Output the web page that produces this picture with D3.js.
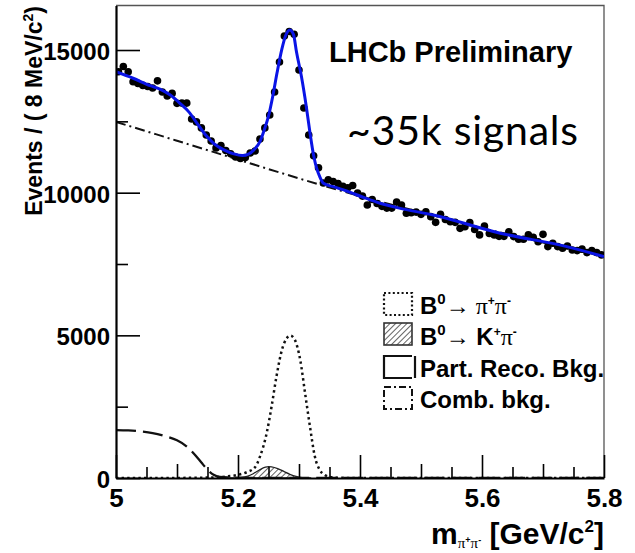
<!DOCTYPE html>
<html>
<head>
<meta charset="utf-8">
<script src="https://cdn.jsdelivr.net/npm/d3@7"></script>
<style>
  body { margin: 0; background: #fff; }
  svg { display: block; }
  .axis text { font-family: "Liberation Sans", Arial, Helvetica, sans-serif; font-weight: bold; fill: #000; }
</style>
</head>
<body>
<svg id="chart" width="635" height="553"></svg>
<script>
// ---- data: B0 -> pi+ pi- invariant mass, 8 MeV bins ----
const binCenters = [
  5.004,5.012,5.020,5.028,5.036,5.044,5.052,5.060,5.068,5.076,
  5.084,5.092,5.100,5.108,5.116,5.124,5.132,5.140,5.148,5.156,
  5.164,5.172,5.180,5.188,5.196,5.204,5.212,5.220,5.228,5.236,
  5.244,5.252,5.260,5.268,5.276,5.284,5.292,5.300,5.308,5.316,
  5.324,5.332,5.340,5.348,5.356,5.364,5.372,5.380,5.388,5.396,
  5.404,5.412,5.420,5.428,5.436,5.444,5.452,5.460,5.468,5.476,
  5.484,5.492,5.500,5.508,5.516,5.524,5.532,5.540,5.548,5.556,
  5.564,5.572,5.580,5.588,5.596,5.604,5.612,5.620,5.628,5.636,
  5.644,5.652,5.660,5.668,5.676,5.684,5.692,5.700,5.708,5.716,
  5.724,5.732,5.740,5.748,5.756,5.764,5.772,5.780,5.788,5.796
];
const events = [
  14240,14420,14240,13890,13830,13760,13720,13670,13920,13530,
  13390,13480,13130,13140,13140,12580,12480,12270,12020,11810,
  11570,11650,11480,11360,11250,11200,11230,11390,11460,11880,
  12270,12720,13530,14580,15490,15650,15550,14300,12970,12020,
  11290,10870,10340,10450,10390,10320,10220,10170,10250,9990,
  9880,9570,9760,9620,9520,9460,9460,9670,9570,9280,
  9300,9320,9240,9330,9160,8960,9240,9060,8980,8960,
  8750,8810,8950,8710,8520,8830,8570,8520,8470,8470,
  8630,8460,8370,8370,8520,8440,8280,8540,8110,8230,
  8110,8050,8130,7990,7970,8020,7900,7970,7900,7820
];

// total fit
const totalMass = [5.000,5.028,5.056,5.072,5.089,5.105,5.119,5.133,5.147,5.160,5.177,5.193,5.207,5.218,5.226,5.236,5.243,5.250,5.257,5.264,5.272,5.278,5.285,5.291,5.296,5.304,5.312,5.318,5.324,5.329,5.334,5.340,5.356,5.378,5.405,5.433,5.466,5.520,5.630,5.739,5.800];
const totalFit  = [14240,14010,13750,13630,13420,13130,12840,12430,12020,11730,11500,11360,11300,11360,11500,11790,12200,12680,13380,14200,15040,15500,15700,15540,14920,14070,13010,12100,11300,10850,10560,10330,10210,10060,9840,9630,9450,9220,8580,8110,7760];

// combinatorial background
const combMass = [5.0,5.1,5.2,5.3,5.4,5.5,5.6,5.7,5.8];
const combFit  = [12480,11820,11160,10500,9880,9310,8760,8250,7760];

// B0 -> pi+ pi- signal
const sigMass = [5.00,5.10,5.15,5.18,5.20,5.215,5.228,5.236,5.247,5.255,5.263,5.272,5.280,5.286,5.293,5.302,5.310,5.318,5.326,5.334,5.342,5.350,5.370,5.400,5.800];
const sigFit  = [0,3,15,50,110,210,380,750,1570,2500,3550,4490,4900,4990,4850,4140,2970,1800,750,280,110,40,8,0,0];

// B0 -> K+ pi- misidentified
const kpiMass = [5.180,5.195,5.205,5.215,5.225,5.235,5.245,5.250,5.255,5.265,5.275,5.285,5.295,5.305,5.320];
const kpiFit  = [0,5,20,60,150,280,380,400,390,330,230,130,55,15,0];

// partially reconstructed background
const prMass = [5.00,5.02,5.04,5.06,5.08,5.10,5.115,5.13,5.14,5.15,5.16,5.17,5.19,5.22,5.26,5.80];
const prFit  = [1680,1668,1635,1575,1470,1320,1120,800,540,290,110,40,15,5,0,0];

// axis ticks
const yMajorTicks = [0,5000,10000,15000];
const yMinorTicks = [2500,7500,12500];
const xMajorTicks = [5.0,5.2,5.4,5.6,5.8];
const xTickLabels = ["5","5.2","5.4","5.6","5.8"];
const xMidTicks   = [5.1,5.3,5.5,5.7];
const xMinorTicks = [5.05,5.15,5.25,5.35,5.45,5.55,5.65,5.75];

// ---- drawing ----
const svg = d3.select("#chart");
const plotLeft = 116, plotRight = 604, plotTop = 5.5, plotBottom = 478;
const x = d3.scaleLinear().domain([5.0, 5.8]).range([plotLeft, plotRight]);
const y = d3.scaleLinear().domain([0, 16560]).range([plotBottom, plotTop]);

const defs = svg.append("defs");
defs.append("clipPath").attr("id", "plotArea")
  .append("rect").attr("x", plotLeft).attr("y", plotTop)
  .attr("width", plotRight - plotLeft).attr("height", plotBottom - plotTop);
const hatch = defs.append("pattern").attr("id", "hatch")
  .attr("patternUnits", "userSpaceOnUse").attr("width", 4).attr("height", 4)
  .attr("patternTransform", "rotate(45)");
hatch.append("line").attr("x1", 0).attr("y1", 0).attr("x2", 0).attr("y2", 4)
  .attr("stroke", "#222").attr("stroke-width", 1.4);

// frame (top / right)
svg.append("path")
  .attr("d", `M${plotLeft},${plotTop}H${plotRight}V${plotBottom}`)
  .attr("fill", "none").attr("stroke", "#555").attr("stroke-width", 1.3);

const plot = svg.append("g").attr("clip-path", "url(#plotArea)");
const lineOf = (xs, ys, curve) => d3.line()
  .x((d, i) => x(xs[i])).y((d, i) => y(ys[i])).curve(curve || d3.curveMonotoneX)(ys);

// combinatorial background: dash-dot
plot.append("path").attr("d", lineOf(combMass, combFit))
  .attr("fill", "none").attr("stroke", "#111").attr("stroke-width", 2)
  .attr("stroke-dasharray", "10,4,2,4");

// partially reconstructed background: long dashes
plot.append("path").attr("d", lineOf(prMass, prFit))
  .attr("fill", "none").attr("stroke", "#111").attr("stroke-width", 2.3)
  .attr("stroke-dasharray", "20,7");

// K pi: hatched area
const kpiArea = d3.area()
  .x((d, i) => x(kpiMass[i])).y0(y(0)).y1((d, i) => y(kpiFit[i]))
  .curve(d3.curveMonotoneX);
plot.append("path").attr("d", kpiArea(kpiFit))
  .attr("fill", "url(#hatch)").attr("stroke", "#222").attr("stroke-width", 1.3);

// pi pi signal: dotted
plot.append("path").attr("d", lineOf(sigMass, sigFit))
  .attr("fill", "none").attr("stroke", "#111").attr("stroke-width", 2.5)
  .attr("stroke-dasharray", "2.4,3.2");

// data points
plot.append("g").selectAll("circle").data(events).join("circle")
  .attr("cx", (d, i) => x(binCenters[i])).attr("cy", d => y(d))
  .attr("r", 3.8).attr("fill", "#000");

// total fit
plot.append("path").attr("d", lineOf(totalMass, totalFit))
  .attr("fill", "none").attr("stroke", "#0a14e6").attr("stroke-width", 3);

// ---- axes ----
const yAxis = svg.append("g").attr("class", "axis").attr("transform", `translate(${plotLeft},0)`)
  .call(d3.axisLeft(y).tickValues(yMajorTicks).tickSize(-24).tickSizeOuter(0).tickPadding(6)
    .tickFormat(d3.format("d")));
svg.append("g").attr("transform", `translate(${plotLeft},0)`)
  .call(d3.axisLeft(y).tickValues(yMinorTicks).tickSize(-12).tickSizeOuter(0).tickFormat(""))
  .call(g => g.select(".domain").remove());
yAxis.selectAll("text").attr("font-size", 24).attr("dy", "0.4em");

const xAxis = svg.append("g").attr("class", "axis").attr("transform", `translate(0,${plotBottom})`)
  .call(d3.axisBottom(x).tickValues(xMajorTicks).tickSize(-23).tickSizeOuter(0).tickPadding(11)
    .tickFormat((d, i) => xTickLabels[i]));
xAxis.selectAll("text").attr("font-size", 26);
svg.append("g").attr("transform", `translate(0,${plotBottom})`)
  .call(d3.axisBottom(x).tickValues(xMidTicks).tickSize(-14).tickSizeOuter(0).tickFormat(""))
  .call(g => g.select(".domain").remove());
svg.append("g").attr("transform", `translate(0,${plotBottom})`)
  .call(d3.axisBottom(x).tickValues(xMinorTicks).tickSize(-11).tickSizeOuter(0).tickFormat(""))
  .call(g => g.select(".domain").remove());

svg.selectAll(".tick line").attr("stroke", "#000").attr("stroke-width", 1.6);
svg.selectAll(".axis .domain").attr("stroke", "#000").attr("stroke-width", 2.2);

// ---- titles ----
const sans = '"Liberation Sans", Arial, Helvetica, sans-serif';
const serif = '"Liberation Serif", "Times New Roman", serif';

const yTitle = svg.append("text")
  .attr("transform", "translate(42,6) rotate(-90)")
  .attr("text-anchor", "end").attr("font-family", sans).attr("font-weight", "bold")
  .attr("font-size", 23);
yTitle.append("tspan").text("Events / ( 8 MeV/c");
yTitle.append("tspan").attr("font-size", 14).attr("dy", -9).text("2");
yTitle.append("tspan").attr("dy", 9).text(")");

const xTitle = svg.append("text")
  .attr("x", 604).attr("y", 544).attr("text-anchor", "end")
  .attr("font-family", sans).attr("font-weight", "bold").attr("font-size", 30);
xTitle.append("tspan").text("m");
xTitle.append("tspan").attr("font-family", serif).attr("font-weight", "normal").attr("font-size", 15).attr("dy", 4).text("π");
xTitle.append("tspan").attr("font-size", 9).attr("dy", -5).text("+");
xTitle.append("tspan").attr("font-family", serif).attr("font-weight", "normal").attr("font-size", 15).attr("dy", 5).text("π");
xTitle.append("tspan").attr("font-size", 9).attr("dy", -5).text("-");
xTitle.append("tspan").attr("dy", 1).text(" [GeV/c");
xTitle.append("tspan").attr("font-size", 17).attr("dy", -12).text("2");
xTitle.append("tspan").attr("dy", 12).text("]");

svg.append("text").attr("x", 329).attr("y", 62)
  .attr("font-family", sans).attr("font-weight", "bold").attr("font-size", 29)
  .text("LHCb Preliminary");

svg.append("text").attr("x", 347).attr("y", 145)
  .attr("font-family", 'Lato, "Open Sans", sans-serif').attr("font-size", 41)
  .attr("letter-spacing", 0.8)
  .text("~35k signals");

// ---- legend ----
const legendRows = [
  { key: "pipi", top: 293 },
  { key: "kpi", top: 323 },
  { key: "pr", top: 356 },
  { key: "comb", top: 387 }
];
const leg = svg.append("g");
const bx = 384, bw = 28, bh = 22;
legendRows.forEach(r => {
  const g = leg.append("g");
  if (r.key === "pipi") {
    g.append("rect").attr("x", bx).attr("y", r.top).attr("width", bw).attr("height", bh)
      .attr("fill", "none").attr("stroke", "#111").attr("stroke-width", 2.2).attr("stroke-dasharray", "2,2.4");
  } else if (r.key === "kpi") {
    g.append("rect").attr("x", bx).attr("y", r.top).attr("width", bw).attr("height", bh)
      .attr("fill", "url(#hatch)").attr("stroke", "#333").attr("stroke-width", 1.6);
  } else if (r.key === "pr") {
    g.append("path").attr("d", `M${bx + bw},${r.top}H${bx}V${r.top + bh}H${bx + bw}`)
      .attr("fill", "none").attr("stroke", "#111").attr("stroke-width", 2.2);
    g.append("path").attr("d", `M${bx + bw + 3},${r.top}V${r.top + bh}`)
      .attr("stroke", "#111").attr("stroke-width", 2.2);
  } else {
    g.append("rect").attr("x", bx).attr("y", r.top).attr("width", bw).attr("height", bh)
      .attr("fill", "none").attr("stroke", "#111").attr("stroke-width", 2).attr("stroke-dasharray", "7,3,2,3");
  }
});

const legText = (ty) => leg.append("text").attr("x", 420).attr("y", ty)
  .attr("font-family", sans).attr("font-weight", "bold").attr("font-size", 24);

let t = legText(314);
t.append("tspan").text("B");
t.append("tspan").attr("font-size", 15).attr("dy", -10).text("0");
t.append("tspan").attr("font-family", serif).attr("font-weight", "normal").attr("font-size", 24).attr("dy", 10).text("→ ");
t.append("tspan").attr("font-family", serif).attr("font-weight", "normal").attr("font-size", 24).text("π");
t.append("tspan").attr("font-size", 12).attr("dy", -9).text("+");
t.append("tspan").attr("font-family", serif).attr("font-weight", "normal").attr("font-size", 24).attr("dy", 9).text("π");
t.append("tspan").attr("font-size", 12).attr("dy", -9).text("-");

t = legText(345);
t.append("tspan").text("B");
t.append("tspan").attr("font-size", 15).attr("dy", -10).text("0");
t.append("tspan").attr("font-family", serif).attr("font-weight", "normal").attr("font-size", 24).attr("dy", 10).text("→");
t.append("tspan").text(" K");
t.append("tspan").attr("font-size", 12).attr("dy", -9).text("+");
t.append("tspan").attr("font-family", serif).attr("font-weight", "normal").attr("font-size", 24).attr("dy", 9).text("π");
t.append("tspan").attr("font-size", 12).attr("dy", -9).text("-");

legText(377).text("Part. Reco. Bkg.");
legText(408).text("Comb. bkg.");
</script>
</body>
</html>
